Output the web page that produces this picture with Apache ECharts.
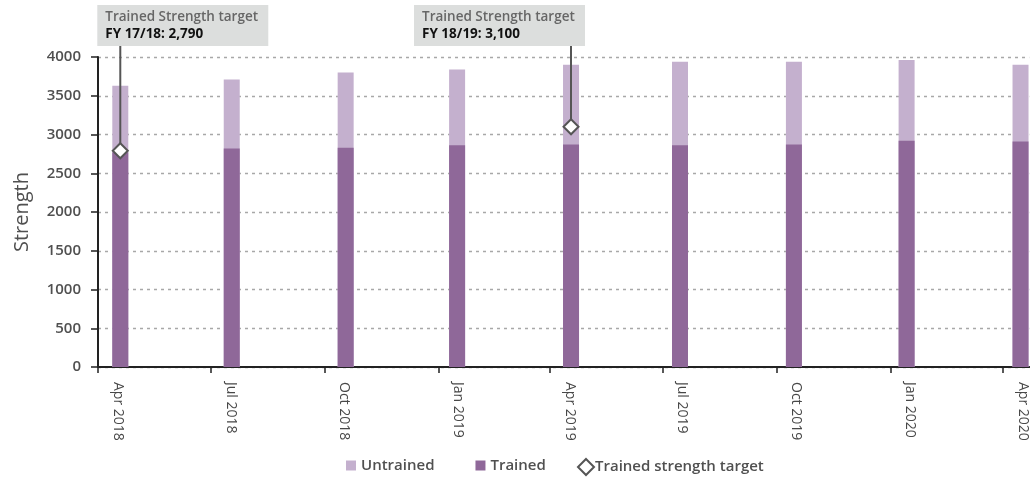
<!DOCTYPE html>
<html>
<head>
<meta charset="utf-8">
<script src="https://cdn.jsdelivr.net/npm/echarts@6/dist/echarts.min.js"></script>
<style>
  html, body { margin: 0; padding: 0; background: #fff; }
  #chart { width: 1030px; height: 479px; }
</style>
</head>
<body>
<div id="chart"></div>
<script>
// ---- Data ----
const barDates = ['2018-04-19', '2018-07-18', '2018-10-18', '2019-01-16', '2019-04-18',
                  '2019-07-15', '2019-10-15', '2020-01-14', '2020-04-15'];
const trained   = [2770, 2820, 2830, 2860, 2870, 2860, 2870, 2920, 2910];
const untrained = [860, 890, 970, 980, 1030, 1080, 1070, 1040, 990];

const targetDates  = ['2018-04-19', '2019-04-18'];
const targetValues = [2790, 3100];
const targetLabels = ['FY 17/18: 2,790', 'FY 18/19: 3,100'];
const targetTitle  = 'Trained Strength target';

const tickDates  = ['2018-04-01', '2018-07-01', '2018-10-01', '2019-01-01', '2019-04-01',
                    '2019-07-01', '2019-10-01', '2020-01-01', '2020-04-01'];
const tickLabels = ['Apr 2018', 'Jul 2018', 'Oct 2018', 'Jan 2019', 'Apr 2019',
                    'Jul 2019', 'Oct 2019', 'Jan 2020', 'Apr 2020'];
const yTicks = [0, 500, 1000, 1500, 2000, 2500, 3000, 3500, 4000];

// ---- Helpers ----
// x positions measured in days since 2018-04-01
const ORIGIN = Date.UTC(2018, 3, 1);
const DAY = 86400000;
function dnum(s) { const p = s.split('-').map(Number); return Math.round((Date.UTC(p[0], p[1] - 1, p[2]) - ORIGIN) / DAY); }
const tickX = tickDates.map(dnum);
const labelShiftDays = 16;           // labels sit to the right of their tick
const labelX = tickX.map(t => t + labelShiftDays);
const boxShift = [-23, -157];        // annotation box left offset from marker (px)
// stacked top of each bar (trained + untrained)
const stackedTop = trained.map((t, i) => t + untrained[i]);

const FONT = '"Open Sans", "Noto Sans", sans-serif';
const chart = echarts.init(document.getElementById('chart'));

const option = {
  animation: false,
  textStyle: { fontFamily: FONT },
  grid: { left: 98, right: 0, top: 57, bottom: 112, containLabel: false },
  legend: [
    {
      data: ['Untrained', 'Trained'],
      left: 346, top: 458, padding: 0,
      itemWidth: 10, itemHeight: 10, itemGap: 41,
      icon: 'rect',
      textStyle: { fontSize: 15, fontWeight: 600, color: '#505050', fontFamily: FONT },
      selectedMode: false
    },
    {
      data: [{ name: 'Trained strength target', icon: 'diamond' }],
      left: 577, top: 458, padding: 0,
      itemWidth: 16, itemHeight: 16, itemGap: 2,
      textStyle: { fontSize: 15, fontWeight: 600, color: '#505050', fontFamily: FONT, padding: [0, 0, 0, -4] },
      selectedMode: false
    }
  ],
  xAxis: {
    type: 'value',
    min: dnum('2018-04-01'),
    max: dnum('2020-04-22'),
    splitLine: { show: false },
    axisLine: { show: true, onZero: false, lineStyle: { color: '#222', width: 2 } },
    axisTick: { show: true, length: 6, lineStyle: { color: '#222', width: 1.5 }, customValues: tickX },
    axisLabel: {
      customValues: labelX,
      rotate: -90,
      margin: 15,
      fontSize: 14,
      fontWeight: 500,
      color: '#484848',
      fontFamily: FONT,
      formatter: function (v) {
        const i = labelX.indexOf(v);
        return i >= 0 ? tickLabels[i] : '';
      }
    }
  },
  yAxis: {
    type: 'value',
    min: 0, max: 4000, interval: 500,
    name: 'Strength',
    nameLocation: 'middle',
    nameGap: 66,
    nameRotate: 90,
    nameTextStyle: { fontSize: 20, fontWeight: 500, color: '#505050', fontFamily: FONT },
    axisLine: { show: true, lineStyle: { color: '#222', width: 2 } },
    axisTick: { show: true, length: 7, lineStyle: { color: '#222', width: 1.5 } },
    axisLabel: {
      margin: 17, fontSize: 15, fontWeight: 600, color: '#505050', fontFamily: FONT,
      formatter: function (v) { return yTicks.indexOf(v) >= 0 ? String(v) : ''; }
    },
    splitLine: { show: true, lineStyle: { color: '#a8a8a8', width: 1.3, type: [3, 4] } }
  },
  series: [
    {
      name: 'Untrained', type: 'bar', barWidth: 16, barGap: '-100%', z: 2,
      itemStyle: { color: '#c4b0ce' },
      data: barDates.map((d, i) => [dnum(d), stackedTop[i]])
    },
    {
      name: 'Trained', type: 'bar', barWidth: 16, barGap: '-100%', z: 3,
      itemStyle: { color: '#8f6899' },
      data: barDates.map((d, i) => [dnum(d), trained[i]])
    },
    {
      name: 'annotations', type: 'custom', clip: false, z: 5,
      silent: true,
      data: targetDates.map((d, i) => [dnum(d), targetValues[i]]),
      renderItem: function (params, api) {
        const pt = api.coord([api.value(0), api.value(1)]);
        const top = params.coordSys.y;
        const boxBottom = top - 11;
        const boxTop = boxBottom - 41;
        const left = pt[0] + boxShift[params.dataIndex];
        return {
          type: 'group',
          children: [
            { type: 'line', shape: { x1: pt[0], y1: boxBottom, x2: pt[0], y2: pt[1] },
              style: { stroke: '#555', lineWidth: 2 } },
            { type: 'rect', shape: { x: left, y: boxTop, width: 171, height: 41 },
              style: { fill: '#dcdedd' } },
            { type: 'text', x: left + 8, y: boxTop + 12,
              style: { text: targetTitle, fill: '#666', font: '600 13.5px ' + FONT, verticalAlign: 'middle' } },
            { type: 'text', x: left + 8, y: boxTop + 29,
              style: { text: targetLabels[params.dataIndex], fill: '#111', font: '700 13.5px ' + FONT, verticalAlign: 'middle' } }
          ]
        };
      }
    },
    {
      name: 'Trained strength target', type: 'scatter', z: 10,
      symbol: 'diamond', symbolSize: 15,
      itemStyle: { color: '#fff', borderColor: '#555', borderWidth: 2, opacity: 1 },
      data: targetDates.map((d, i) => [dnum(d), targetValues[i]])
    }
  ]
};
chart.setOption(option);
</script>
</body>
</html>
